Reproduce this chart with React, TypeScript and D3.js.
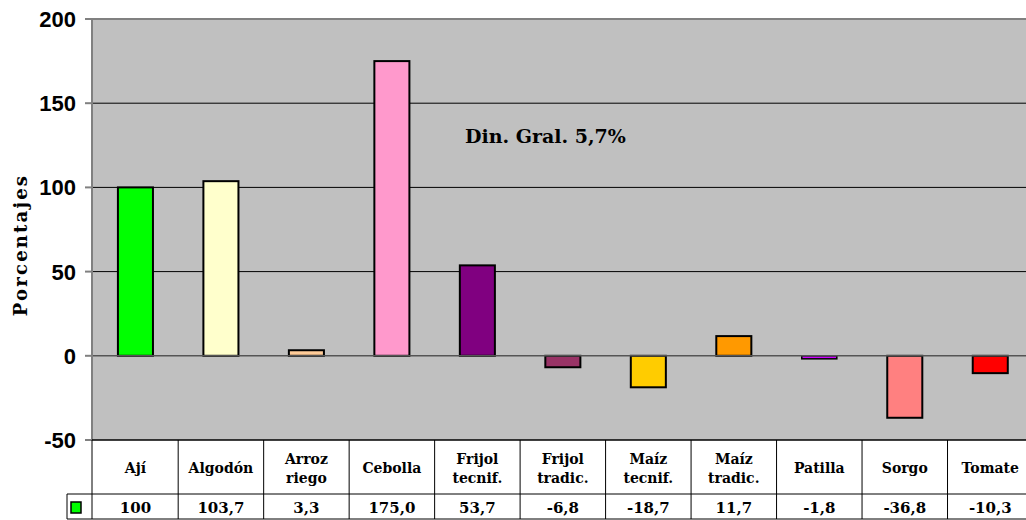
import React from "react";
import * as d3 from "d3";

const categories = [
  ["Ají"],
  ["Algodón"],
  ["Arroz", "riego"],
  ["Cebolla"],
  ["Frijol", "tecnif."],
  ["Frijol", "tradic."],
  ["Maíz", "tecnif."],
  ["Maíz", "tradic."],
  ["Patilla"],
  ["Sorgo"],
  ["Tomate"],
];
const values = [100, 103.7, 3.3, 175.0, 53.7, -6.8, -18.7, 11.7, -1.8, -36.8, -10.3];
const valueLabels = ["100", "103,7", "3,3", "175,0", "53,7", "-6,8", "-18,7", "11,7", "-1,8", "-36,8", "-10,3"];
const colors = ["#00FF00", "#FFFFCC", "#FFCC99", "#FF99CC", "#800080", "#993366", "#FFCC00", "#FF9900", "#CC00FF", "#FF8080", "#FF0000"];
const yTicks = [-50, 0, 50, 100, 150, 200];
const annotation = "Din. Gral. 5,7%";
const yTitle = "Porcentajes";

const W = 1026;
const H = 520;
const left = 92;
const right = 1033;
const top = 19;
const bottom = 440;
const rowSplit = 494;
const tableBottom = 519;
const legendLeft = 67;

export default function App() {
  const keys = categories.map((c) => c.join(" "));
  const x = d3.scaleBand<string>().domain(keys).range([left + 0.7, right]).padding(0);
  const y = d3.scaleLinear().domain([-50, 200]).range([bottom, top]);
  const bw = x.bandwidth();
  const barW = bw * 0.41;
  const serif = "'DejaVu Serif', serif";
  const sans = "'Liberation Sans', Arial, sans-serif";

  return (
    <svg width={W} height={H} style={{ position: "absolute", left: 0, top: 0, background: "#fff" }}>
      <rect x={left} y={top} width={right - left} height={bottom - top} fill="#C0C0C0" />
      {yTicks.filter((t) => t > 0 && t < 200).map((t) => (
        <line key={"g" + t} x1={left} x2={right} y1={y(t)} y2={y(t)} stroke="#000" strokeWidth={1} />
      ))}
      <line x1={left} x2={right} y1={top} y2={top} stroke="#808080" strokeWidth={2} />
      {values.map((v, i) => {
        const cx = x(keys[i])! + bw / 2;
        const y0 = y(0);
        const y1 = y(v);
        const h = Math.abs(y1 - y0);
        return (
          <rect
            key={"b" + i}
            x={cx - barW / 2}
            y={Math.min(y0, y1)}
            width={barW}
            height={Math.max(h, 1)}
            fill={colors[i]}
            stroke="#000"
            strokeWidth={h < 5 ? 1.5 : 2}
          />
        );
      })}
      <line x1={left} x2={right} y1={y(0)} y2={y(0)} stroke="#555" strokeWidth={1.5} />
      <line x1={left} x2={left} y1={top} y2={bottom} stroke="#808080" strokeWidth={2} />
      {yTicks.map((t) => (
        <g key={"t" + t}>
          <line x1={left - 7} x2={left} y1={y(t)} y2={y(t)} stroke="#808080" strokeWidth={2} />
          <text x={left - 16} y={y(t)} dy="0.36em" textAnchor="end" fontFamily={sans} fontWeight="bold" fontSize={22}>
            {t}
          </text>
        </g>
      ))}
      <text
        transform={`translate(27,245) rotate(-90)`}
        textAnchor="middle"
        fontFamily={serif}
        fontWeight="bold"
        fontSize={18}
        letterSpacing={2.2}
      >
        {yTitle}
      </text>
      <text x={465} y={143} fontFamily={serif} fontWeight="bold" fontSize={19}>
        {annotation}
      </text>
      {/* table */}
      <line x1={left} x2={right} y1={bottom} y2={bottom} stroke="#000" strokeWidth={1.5} />
      <line x1={legendLeft} x2={right} y1={rowSplit} y2={rowSplit} stroke="#000" strokeWidth={1} />
      <line x1={legendLeft} x2={right} y1={tableBottom} y2={tableBottom} stroke="#000" strokeWidth={1} />
      <line x1={legendLeft} x2={legendLeft} y1={rowSplit} y2={tableBottom} stroke="#000" strokeWidth={1} />
      <line x1={left} x2={left} y1={bottom} y2={tableBottom} stroke="#000" strokeWidth={1} />
      {keys.map((k, i) => {
        const x0 = x(k)!;
        const cx = x0 + bw / 2;
        const lines = categories[i];
        return (
          <g key={"c" + i}>
            <line x1={x0 + bw} x2={x0 + bw} y1={bottom} y2={tableBottom} stroke="#000" strokeWidth={1} />
            {lines.map((ln, j) => (
              <text
                key={j}
                x={cx}
                y={lines.length === 1 ? 473 : 464 + j * 19}
                textAnchor="middle"
                fontFamily={serif}
                fontWeight="bold"
                fontSize={14}
              >
                {ln}
              </text>
            ))}
            <text x={cx} y={513} textAnchor="middle" fontFamily={serif} fontWeight="bold" fontSize={15}>
              {valueLabels[i]}
            </text>
          </g>
        );
      })}
      <rect x={71} y={502} width={10} height={11} fill="#00FF00" stroke="#000" strokeWidth={1.5} />
    </svg>
  );
}
